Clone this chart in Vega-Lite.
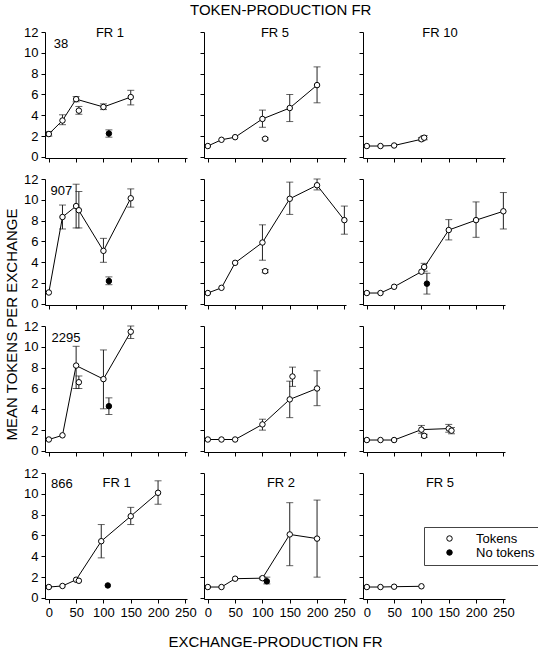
{
"$schema": "https://vega.github.io/schema/vega-lite/v6.json",
"background": "white",
"padding": {"left": 4, "top": 3, "right": 5, "bottom": 1},
"datasets": {"d": [
{"subj":"38","tfr":1,"x":0,"y":2.2,"lo":2.0,"hi":2.45,"cond":"Tokens","conn":1},
{"subj":"38","tfr":1,"x":25,"y":3.5,"lo":3.1,"hi":4.05,"cond":"Tokens","conn":1},
{"subj":"38","tfr":1,"x":50,"y":5.55,"lo":5.3,"hi":5.8,"cond":"Tokens","conn":1},
{"subj":"38","tfr":1,"x":55,"y":4.45,"lo":4.1,"hi":4.85,"cond":"Tokens","conn":0},
{"subj":"38","tfr":1,"x":100,"y":4.8,"lo":4.55,"hi":5.1,"cond":"Tokens","conn":1},
{"subj":"38","tfr":1,"x":110,"y":2.25,"lo":1.9,"hi":2.6,"cond":"No tokens","conn":0},
{"subj":"38","tfr":1,"x":150,"y":5.75,"lo":5.0,"hi":6.4,"cond":"Tokens","conn":1},
{"subj":"38","tfr":5,"x":0,"y":1.05,"lo":null,"hi":null,"cond":"Tokens","conn":1},
{"subj":"38","tfr":5,"x":25,"y":1.65,"lo":null,"hi":null,"cond":"Tokens","conn":1},
{"subj":"38","tfr":5,"x":50,"y":1.9,"lo":null,"hi":null,"cond":"Tokens","conn":1},
{"subj":"38","tfr":5,"x":100,"y":3.65,"lo":2.85,"hi":4.5,"cond":"Tokens","conn":1},
{"subj":"38","tfr":5,"x":105,"y":1.75,"lo":1.65,"hi":1.85,"cond":"Tokens","conn":0},
{"subj":"38","tfr":5,"x":150,"y":4.7,"lo":3.4,"hi":6.0,"cond":"Tokens","conn":1},
{"subj":"38","tfr":5,"x":200,"y":6.9,"lo":5.2,"hi":8.65,"cond":"Tokens","conn":1},
{"subj":"38","tfr":10,"x":0,"y":1.05,"lo":null,"hi":null,"cond":"Tokens","conn":1},
{"subj":"38","tfr":10,"x":25,"y":1.05,"lo":null,"hi":null,"cond":"Tokens","conn":1},
{"subj":"38","tfr":10,"x":50,"y":1.1,"lo":null,"hi":null,"cond":"Tokens","conn":1},
{"subj":"38","tfr":10,"x":100,"y":1.7,"lo":1.55,"hi":1.85,"cond":"Tokens","conn":1},
{"subj":"38","tfr":10,"x":105,"y":1.85,"lo":1.65,"hi":2.05,"cond":"Tokens","conn":0},
{"subj":"907","tfr":1,"x":0,"y":1.1,"lo":null,"hi":null,"cond":"Tokens","conn":1},
{"subj":"907","tfr":1,"x":25,"y":8.35,"lo":7.2,"hi":9.5,"cond":"Tokens","conn":1},
{"subj":"907","tfr":1,"x":50,"y":9.4,"lo":7.3,"hi":11.5,"cond":"Tokens","conn":1},
{"subj":"907","tfr":1,"x":55,"y":9.0,"lo":7.3,"hi":10.8,"cond":"Tokens","conn":0},
{"subj":"907","tfr":1,"x":100,"y":5.1,"lo":4.0,"hi":6.3,"cond":"Tokens","conn":1},
{"subj":"907","tfr":1,"x":110,"y":2.2,"lo":1.85,"hi":2.6,"cond":"No tokens","conn":0},
{"subj":"907","tfr":1,"x":150,"y":10.15,"lo":9.3,"hi":11.05,"cond":"Tokens","conn":1},
{"subj":"907","tfr":5,"x":0,"y":1.05,"lo":null,"hi":null,"cond":"Tokens","conn":1},
{"subj":"907","tfr":5,"x":25,"y":1.55,"lo":null,"hi":null,"cond":"Tokens","conn":1},
{"subj":"907","tfr":5,"x":50,"y":3.95,"lo":null,"hi":null,"cond":"Tokens","conn":1},
{"subj":"907","tfr":5,"x":100,"y":5.9,"lo":4.2,"hi":7.6,"cond":"Tokens","conn":1},
{"subj":"907","tfr":5,"x":105,"y":3.15,"lo":3.0,"hi":3.3,"cond":"Tokens","conn":0},
{"subj":"907","tfr":5,"x":150,"y":10.1,"lo":8.6,"hi":11.7,"cond":"Tokens","conn":1},
{"subj":"907","tfr":5,"x":200,"y":11.4,"lo":10.95,"hi":12.0,"cond":"Tokens","conn":1},
{"subj":"907","tfr":5,"x":250,"y":8.05,"lo":6.7,"hi":9.4,"cond":"Tokens","conn":1},
{"subj":"907","tfr":10,"x":0,"y":1.05,"lo":null,"hi":null,"cond":"Tokens","conn":1},
{"subj":"907","tfr":10,"x":25,"y":1.05,"lo":null,"hi":null,"cond":"Tokens","conn":1},
{"subj":"907","tfr":10,"x":50,"y":1.65,"lo":null,"hi":null,"cond":"Tokens","conn":1},
{"subj":"907","tfr":10,"x":100,"y":3.1,"lo":null,"hi":null,"cond":"Tokens","conn":1},
{"subj":"907","tfr":10,"x":105,"y":3.55,"lo":3.15,"hi":3.9,"cond":"Tokens","conn":0},
{"subj":"907","tfr":10,"x":110,"y":1.95,"lo":0.95,"hi":2.95,"cond":"No tokens","conn":0},
{"subj":"907","tfr":10,"x":150,"y":7.1,"lo":6.15,"hi":8.1,"cond":"Tokens","conn":1},
{"subj":"907","tfr":10,"x":200,"y":8.05,"lo":6.4,"hi":9.8,"cond":"Tokens","conn":1},
{"subj":"907","tfr":10,"x":250,"y":8.9,"lo":7.2,"hi":10.7,"cond":"Tokens","conn":1},
{"subj":"2295","tfr":1,"x":0,"y":1.1,"lo":null,"hi":null,"cond":"Tokens","conn":1},
{"subj":"2295","tfr":1,"x":25,"y":1.5,"lo":null,"hi":null,"cond":"Tokens","conn":1},
{"subj":"2295","tfr":1,"x":50,"y":8.2,"lo":6.0,"hi":10.05,"cond":"Tokens","conn":1},
{"subj":"2295","tfr":1,"x":55,"y":6.6,"lo":6.0,"hi":7.2,"cond":"Tokens","conn":0},
{"subj":"2295","tfr":1,"x":100,"y":6.9,"lo":4.05,"hi":9.7,"cond":"Tokens","conn":1},
{"subj":"2295","tfr":1,"x":110,"y":4.3,"lo":3.5,"hi":5.1,"cond":"No tokens","conn":0},
{"subj":"2295","tfr":1,"x":150,"y":11.45,"lo":10.8,"hi":12.0,"cond":"Tokens","conn":1},
{"subj":"2295","tfr":5,"x":0,"y":1.1,"lo":null,"hi":null,"cond":"Tokens","conn":1},
{"subj":"2295","tfr":5,"x":25,"y":1.1,"lo":null,"hi":null,"cond":"Tokens","conn":1},
{"subj":"2295","tfr":5,"x":50,"y":1.1,"lo":null,"hi":null,"cond":"Tokens","conn":1},
{"subj":"2295","tfr":5,"x":100,"y":2.55,"lo":2.0,"hi":3.05,"cond":"Tokens","conn":1},
{"subj":"2295","tfr":5,"x":150,"y":4.95,"lo":3.2,"hi":6.7,"cond":"Tokens","conn":1},
{"subj":"2295","tfr":5,"x":155,"y":7.15,"lo":6.2,"hi":8.05,"cond":"Tokens","conn":0},
{"subj":"2295","tfr":5,"x":200,"y":6.0,"lo":4.35,"hi":7.7,"cond":"Tokens","conn":1},
{"subj":"2295","tfr":10,"x":0,"y":1.05,"lo":null,"hi":null,"cond":"Tokens","conn":1},
{"subj":"2295","tfr":10,"x":25,"y":1.05,"lo":null,"hi":null,"cond":"Tokens","conn":1},
{"subj":"2295","tfr":10,"x":50,"y":1.05,"lo":null,"hi":null,"cond":"Tokens","conn":1},
{"subj":"2295","tfr":10,"x":100,"y":2.05,"lo":1.7,"hi":2.45,"cond":"Tokens","conn":1},
{"subj":"2295","tfr":10,"x":105,"y":1.45,"lo":1.3,"hi":1.6,"cond":"Tokens","conn":0},
{"subj":"2295","tfr":10,"x":150,"y":2.15,"lo":1.8,"hi":2.55,"cond":"Tokens","conn":1},
{"subj":"2295","tfr":10,"x":155,"y":1.95,"lo":1.65,"hi":2.25,"cond":"Tokens","conn":0},
{"subj":"866","tfr":1,"x":0,"y":1.05,"lo":null,"hi":null,"cond":"Tokens","conn":1},
{"subj":"866","tfr":1,"x":25,"y":1.15,"lo":null,"hi":null,"cond":"Tokens","conn":1},
{"subj":"866","tfr":1,"x":50,"y":1.75,"lo":null,"hi":null,"cond":"Tokens","conn":1},
{"subj":"866","tfr":1,"x":55,"y":1.65,"lo":null,"hi":null,"cond":"Tokens","conn":0},
{"subj":"866","tfr":1,"x":96,"y":5.45,"lo":3.85,"hi":7.05,"cond":"Tokens","conn":1},
{"subj":"866","tfr":1,"x":108,"y":1.2,"lo":null,"hi":null,"cond":"No tokens","conn":0},
{"subj":"866","tfr":1,"x":150,"y":7.85,"lo":7.05,"hi":8.7,"cond":"Tokens","conn":1},
{"subj":"866","tfr":1,"x":200,"y":10.1,"lo":9.0,"hi":11.25,"cond":"Tokens","conn":1},
{"subj":"866","tfr":2,"x":0,"y":1.05,"lo":null,"hi":null,"cond":"Tokens","conn":1},
{"subj":"866","tfr":2,"x":25,"y":1.05,"lo":null,"hi":null,"cond":"Tokens","conn":1},
{"subj":"866","tfr":2,"x":50,"y":1.85,"lo":null,"hi":null,"cond":"Tokens","conn":1},
{"subj":"866","tfr":2,"x":100,"y":1.9,"lo":1.75,"hi":2.0,"cond":"Tokens","conn":1},
{"subj":"866","tfr":2,"x":108,"y":1.6,"lo":1.35,"hi":2.0,"cond":"No tokens","conn":0},
{"subj":"866","tfr":2,"x":150,"y":6.1,"lo":3.1,"hi":9.15,"cond":"Tokens","conn":1},
{"subj":"866","tfr":2,"x":200,"y":5.7,"lo":2.0,"hi":9.4,"cond":"Tokens","conn":1},
{"subj":"866","tfr":5,"x":0,"y":1.05,"lo":null,"hi":null,"cond":"Tokens","conn":1},
{"subj":"866","tfr":5,"x":25,"y":1.05,"lo":null,"hi":null,"cond":"Tokens","conn":1},
{"subj":"866","tfr":5,"x":50,"y":1.08,"lo":null,"hi":null,"cond":"Tokens","conn":1},
{"subj":"866","tfr":5,"x":100,"y":1.12,"lo":null,"hi":null,"cond":"Tokens","conn":1}
]},
"data": {"name": "d"},
"title": {"text": "TOKEN-PRODUCTION FR", "fontSize": 15, "fontWeight": "normal", "color": "black", "anchor": "start", "frame": "group", "offset": 8, "dx": 145},
"bounds": "flush",
"columns": 3,
"spacing": {"row": 21, "column": 17},
"concat": [
{"width":142,"height":126,"layer":[
 {"transform":[{"filter":"datum.subj=='38' && datum.tfr==1"}],
  "encoding":{"x":{"field":"x","type":"quantitative","scale":{"domain":[-7,253],"nice":false},"axis":{"values":[0,50,100,150,200,250],"tickCount":20,"format":"d","labelOverlap":false,"labels":false,"title":null}}},
  "layer":[
   {"transform":[{"filter":"isValid(datum.lo)"}],"mark":{"type":"rule","color":"#222"},"encoding":{"y":{"field":"lo","type":"quantitative","scale":{"domain":[-0.1,12],"nice":false}},"y2":{"field":"hi"}}},
   {"transform":[{"filter":"isValid(datum.lo)"}],"mark":{"type":"tick","orient":"horizontal","size":7,"thickness":1,"color":"#222"},"encoding":{"y":{"field":"lo","type":"quantitative","scale":{"domain":[-0.1,12],"nice":false}}}},
   {"transform":[{"filter":"isValid(datum.hi)"}],"mark":{"type":"tick","orient":"horizontal","size":7,"thickness":1,"color":"#222"},"encoding":{"y":{"field":"hi","type":"quantitative","scale":{"domain":[-0.1,12],"nice":false}}}},
   {"transform":[{"filter":"datum.conn==1"}],"mark":{"type":"line","color":"black","strokeWidth":1},"encoding":{"y":{"field":"y","type":"quantitative","scale":{"domain":[-0.1,12],"nice":false}}}},
   {"mark":{"type":"point","shape":"circle","filled":true,"stroke":"black","strokeWidth":1,"size":30,"opacity":1},"encoding":{"y":{"field":"y","type":"quantitative","scale":{"domain":[-0.1,12],"nice":false},"axis":{"values":[0,2,4,6,8,10,12],"tickCount":20,"format":"d","labelOverlap":false,"labels":true,"title":null}},"fill":{"field":"cond","type":"nominal","scale":{"domain":["Tokens","No tokens"],"range":["white","black"]},"legend":{"title":null,"orient":"none","legendX":379,"legendY":495}}}}
  ]},
 {"data":{"values":[{}]},"mark":{"type":"text","text":"38","align":"left","baseline":"middle"},"encoding":{"x":{"datum":9,"type":"quantitative","scale":{"domain":[-7,253],"nice":false}},"y":{"datum":10.85,"type":"quantitative","scale":{"domain":[-0.1,12],"nice":false}}}},
 {"data":{"values":[{}]},"mark":{"type":"text","text":"FR 1","align":"center","baseline":"middle"},"encoding":{"x":{"datum":112,"type":"quantitative","scale":{"domain":[-7,253],"nice":false}},"y":{"datum":11.95,"type":"quantitative","scale":{"domain":[-0.1,12],"nice":false}}}}
]},
{"width":142,"height":126,"layer":[
 {"transform":[{"filter":"datum.subj=='38' && datum.tfr==5"}],
  "encoding":{"x":{"field":"x","type":"quantitative","scale":{"domain":[-7,253],"nice":false},"axis":{"values":[0,50,100,150,200,250],"tickCount":20,"format":"d","labelOverlap":false,"labels":false,"title":null}}},
  "layer":[
   {"transform":[{"filter":"isValid(datum.lo)"}],"mark":{"type":"rule","color":"#222"},"encoding":{"y":{"field":"lo","type":"quantitative","scale":{"domain":[-0.1,12],"nice":false}},"y2":{"field":"hi"}}},
   {"transform":[{"filter":"isValid(datum.lo)"}],"mark":{"type":"tick","orient":"horizontal","size":7,"thickness":1,"color":"#222"},"encoding":{"y":{"field":"lo","type":"quantitative","scale":{"domain":[-0.1,12],"nice":false}}}},
   {"transform":[{"filter":"isValid(datum.hi)"}],"mark":{"type":"tick","orient":"horizontal","size":7,"thickness":1,"color":"#222"},"encoding":{"y":{"field":"hi","type":"quantitative","scale":{"domain":[-0.1,12],"nice":false}}}},
   {"transform":[{"filter":"datum.conn==1"}],"mark":{"type":"line","color":"black","strokeWidth":1},"encoding":{"y":{"field":"y","type":"quantitative","scale":{"domain":[-0.1,12],"nice":false}}}},
   {"mark":{"type":"point","shape":"circle","filled":true,"stroke":"black","strokeWidth":1,"size":30,"opacity":1},"encoding":{"y":{"field":"y","type":"quantitative","scale":{"domain":[-0.1,12],"nice":false},"axis":{"values":[0,2,4,6,8,10,12],"tickCount":20,"format":"d","labelOverlap":false,"labels":false,"title":null}},"fill":{"field":"cond","type":"nominal","scale":{"domain":["Tokens","No tokens"],"range":["white","black"]},"legend":{"title":null,"orient":"none","legendX":379,"legendY":495}}}}
  ]},
 {"data":{"values":[{}]},"mark":{"type":"text","text":"FR 5","align":"center","baseline":"middle"},"encoding":{"x":{"datum":123,"type":"quantitative","scale":{"domain":[-7,253],"nice":false}},"y":{"datum":11.95,"type":"quantitative","scale":{"domain":[-0.1,12],"nice":false}}}}
]},
{"width":142,"height":126,"layer":[
 {"transform":[{"filter":"datum.subj=='38' && datum.tfr==10"}],
  "encoding":{"x":{"field":"x","type":"quantitative","scale":{"domain":[-7,253],"nice":false},"axis":{"values":[0,50,100,150,200,250],"tickCount":20,"format":"d","labelOverlap":false,"labels":false,"title":null}}},
  "layer":[
   {"transform":[{"filter":"isValid(datum.lo)"}],"mark":{"type":"rule","color":"#222"},"encoding":{"y":{"field":"lo","type":"quantitative","scale":{"domain":[-0.1,12],"nice":false}},"y2":{"field":"hi"}}},
   {"transform":[{"filter":"isValid(datum.lo)"}],"mark":{"type":"tick","orient":"horizontal","size":7,"thickness":1,"color":"#222"},"encoding":{"y":{"field":"lo","type":"quantitative","scale":{"domain":[-0.1,12],"nice":false}}}},
   {"transform":[{"filter":"isValid(datum.hi)"}],"mark":{"type":"tick","orient":"horizontal","size":7,"thickness":1,"color":"#222"},"encoding":{"y":{"field":"hi","type":"quantitative","scale":{"domain":[-0.1,12],"nice":false}}}},
   {"transform":[{"filter":"datum.conn==1"}],"mark":{"type":"line","color":"black","strokeWidth":1},"encoding":{"y":{"field":"y","type":"quantitative","scale":{"domain":[-0.1,12],"nice":false}}}},
   {"mark":{"type":"point","shape":"circle","filled":true,"stroke":"black","strokeWidth":1,"size":30,"opacity":1},"encoding":{"y":{"field":"y","type":"quantitative","scale":{"domain":[-0.1,12],"nice":false},"axis":{"values":[0,2,4,6,8,10,12],"tickCount":20,"format":"d","labelOverlap":false,"labels":false,"title":null}},"fill":{"field":"cond","type":"nominal","scale":{"domain":["Tokens","No tokens"],"range":["white","black"]},"legend":{"title":null,"orient":"none","legendX":379,"legendY":495}}}}
  ]},
 {"data":{"values":[{}]},"mark":{"type":"text","text":"FR 10","align":"center","baseline":"middle"},"encoding":{"x":{"datum":134,"type":"quantitative","scale":{"domain":[-7,253],"nice":false}},"y":{"datum":11.95,"type":"quantitative","scale":{"domain":[-0.1,12],"nice":false}}}}
]},
{"width":142,"height":126,"layer":[
 {"transform":[{"filter":"datum.subj=='907' && datum.tfr==1"}],
  "encoding":{"x":{"field":"x","type":"quantitative","scale":{"domain":[-7,253],"nice":false},"axis":{"values":[0,50,100,150,200,250],"tickCount":20,"format":"d","labelOverlap":false,"labels":false,"title":null}}},
  "layer":[
   {"transform":[{"filter":"isValid(datum.lo)"}],"mark":{"type":"rule","color":"#222"},"encoding":{"y":{"field":"lo","type":"quantitative","scale":{"domain":[-0.1,12],"nice":false}},"y2":{"field":"hi"}}},
   {"transform":[{"filter":"isValid(datum.lo)"}],"mark":{"type":"tick","orient":"horizontal","size":7,"thickness":1,"color":"#222"},"encoding":{"y":{"field":"lo","type":"quantitative","scale":{"domain":[-0.1,12],"nice":false}}}},
   {"transform":[{"filter":"isValid(datum.hi)"}],"mark":{"type":"tick","orient":"horizontal","size":7,"thickness":1,"color":"#222"},"encoding":{"y":{"field":"hi","type":"quantitative","scale":{"domain":[-0.1,12],"nice":false}}}},
   {"transform":[{"filter":"datum.conn==1"}],"mark":{"type":"line","color":"black","strokeWidth":1},"encoding":{"y":{"field":"y","type":"quantitative","scale":{"domain":[-0.1,12],"nice":false}}}},
   {"mark":{"type":"point","shape":"circle","filled":true,"stroke":"black","strokeWidth":1,"size":30,"opacity":1},"encoding":{"y":{"field":"y","type":"quantitative","scale":{"domain":[-0.1,12],"nice":false},"axis":{"values":[0,2,4,6,8,10,12],"tickCount":20,"format":"d","labelOverlap":false,"labels":true,"title":"MEAN TOKENS PER EXCHANGE","titleY":145,"titlePadding":4}},"fill":{"field":"cond","type":"nominal","scale":{"domain":["Tokens","No tokens"],"range":["white","black"]},"legend":{"title":null,"orient":"none","legendX":379,"legendY":495}}}}
  ]},
 {"data":{"values":[{}]},"mark":{"type":"text","text":"907","align":"left","baseline":"middle"},"encoding":{"x":{"datum":3,"type":"quantitative","scale":{"domain":[-7,253],"nice":false}},"y":{"datum":10.85,"type":"quantitative","scale":{"domain":[-0.1,12],"nice":false}}}}
]},
{"width":142,"height":126,"layer":[
 {"transform":[{"filter":"datum.subj=='907' && datum.tfr==5"}],
  "encoding":{"x":{"field":"x","type":"quantitative","scale":{"domain":[-7,253],"nice":false},"axis":{"values":[0,50,100,150,200,250],"tickCount":20,"format":"d","labelOverlap":false,"labels":false,"title":null}}},
  "layer":[
   {"transform":[{"filter":"isValid(datum.lo)"}],"mark":{"type":"rule","color":"#222"},"encoding":{"y":{"field":"lo","type":"quantitative","scale":{"domain":[-0.1,12],"nice":false}},"y2":{"field":"hi"}}},
   {"transform":[{"filter":"isValid(datum.lo)"}],"mark":{"type":"tick","orient":"horizontal","size":7,"thickness":1,"color":"#222"},"encoding":{"y":{"field":"lo","type":"quantitative","scale":{"domain":[-0.1,12],"nice":false}}}},
   {"transform":[{"filter":"isValid(datum.hi)"}],"mark":{"type":"tick","orient":"horizontal","size":7,"thickness":1,"color":"#222"},"encoding":{"y":{"field":"hi","type":"quantitative","scale":{"domain":[-0.1,12],"nice":false}}}},
   {"transform":[{"filter":"datum.conn==1"}],"mark":{"type":"line","color":"black","strokeWidth":1},"encoding":{"y":{"field":"y","type":"quantitative","scale":{"domain":[-0.1,12],"nice":false}}}},
   {"mark":{"type":"point","shape":"circle","filled":true,"stroke":"black","strokeWidth":1,"size":30,"opacity":1},"encoding":{"y":{"field":"y","type":"quantitative","scale":{"domain":[-0.1,12],"nice":false},"axis":{"values":[0,2,4,6,8,10,12],"tickCount":20,"format":"d","labelOverlap":false,"labels":false,"title":null}},"fill":{"field":"cond","type":"nominal","scale":{"domain":["Tokens","No tokens"],"range":["white","black"]},"legend":{"title":null,"orient":"none","legendX":379,"legendY":495}}}}
  ]}
]},
{"width":142,"height":126,"layer":[
 {"transform":[{"filter":"datum.subj=='907' && datum.tfr==10"}],
  "encoding":{"x":{"field":"x","type":"quantitative","scale":{"domain":[-7,253],"nice":false},"axis":{"values":[0,50,100,150,200,250],"tickCount":20,"format":"d","labelOverlap":false,"labels":false,"title":null}}},
  "layer":[
   {"transform":[{"filter":"isValid(datum.lo)"}],"mark":{"type":"rule","color":"#222"},"encoding":{"y":{"field":"lo","type":"quantitative","scale":{"domain":[-0.1,12],"nice":false}},"y2":{"field":"hi"}}},
   {"transform":[{"filter":"isValid(datum.lo)"}],"mark":{"type":"tick","orient":"horizontal","size":7,"thickness":1,"color":"#222"},"encoding":{"y":{"field":"lo","type":"quantitative","scale":{"domain":[-0.1,12],"nice":false}}}},
   {"transform":[{"filter":"isValid(datum.hi)"}],"mark":{"type":"tick","orient":"horizontal","size":7,"thickness":1,"color":"#222"},"encoding":{"y":{"field":"hi","type":"quantitative","scale":{"domain":[-0.1,12],"nice":false}}}},
   {"transform":[{"filter":"datum.conn==1"}],"mark":{"type":"line","color":"black","strokeWidth":1},"encoding":{"y":{"field":"y","type":"quantitative","scale":{"domain":[-0.1,12],"nice":false}}}},
   {"mark":{"type":"point","shape":"circle","filled":true,"stroke":"black","strokeWidth":1,"size":30,"opacity":1},"encoding":{"y":{"field":"y","type":"quantitative","scale":{"domain":[-0.1,12],"nice":false},"axis":{"values":[0,2,4,6,8,10,12],"tickCount":20,"format":"d","labelOverlap":false,"labels":false,"title":null}},"fill":{"field":"cond","type":"nominal","scale":{"domain":["Tokens","No tokens"],"range":["white","black"]},"legend":{"title":null,"orient":"none","legendX":379,"legendY":495}}}}
  ]}
]},
{"width":142,"height":126,"layer":[
 {"transform":[{"filter":"datum.subj=='2295' && datum.tfr==1"}],
  "encoding":{"x":{"field":"x","type":"quantitative","scale":{"domain":[-7,253],"nice":false},"axis":{"values":[0,50,100,150,200,250],"tickCount":20,"format":"d","labelOverlap":false,"labels":false,"title":null}}},
  "layer":[
   {"transform":[{"filter":"isValid(datum.lo)"}],"mark":{"type":"rule","color":"#222"},"encoding":{"y":{"field":"lo","type":"quantitative","scale":{"domain":[-0.1,12],"nice":false}},"y2":{"field":"hi"}}},
   {"transform":[{"filter":"isValid(datum.lo)"}],"mark":{"type":"tick","orient":"horizontal","size":7,"thickness":1,"color":"#222"},"encoding":{"y":{"field":"lo","type":"quantitative","scale":{"domain":[-0.1,12],"nice":false}}}},
   {"transform":[{"filter":"isValid(datum.hi)"}],"mark":{"type":"tick","orient":"horizontal","size":7,"thickness":1,"color":"#222"},"encoding":{"y":{"field":"hi","type":"quantitative","scale":{"domain":[-0.1,12],"nice":false}}}},
   {"transform":[{"filter":"datum.conn==1"}],"mark":{"type":"line","color":"black","strokeWidth":1},"encoding":{"y":{"field":"y","type":"quantitative","scale":{"domain":[-0.1,12],"nice":false}}}},
   {"mark":{"type":"point","shape":"circle","filled":true,"stroke":"black","strokeWidth":1,"size":30,"opacity":1},"encoding":{"y":{"field":"y","type":"quantitative","scale":{"domain":[-0.1,12],"nice":false},"axis":{"values":[0,2,4,6,8,10,12],"tickCount":20,"format":"d","labelOverlap":false,"labels":true,"title":null}},"fill":{"field":"cond","type":"nominal","scale":{"domain":["Tokens","No tokens"],"range":["white","black"]},"legend":{"title":null,"orient":"none","legendX":379,"legendY":495}}}}
  ]},
 {"data":{"values":[{}]},"mark":{"type":"text","text":"2295","align":"left","baseline":"middle"},"encoding":{"x":{"datum":5,"type":"quantitative","scale":{"domain":[-7,253],"nice":false}},"y":{"datum":10.85,"type":"quantitative","scale":{"domain":[-0.1,12],"nice":false}}}}
]},
{"width":142,"height":126,"layer":[
 {"transform":[{"filter":"datum.subj=='2295' && datum.tfr==5"}],
  "encoding":{"x":{"field":"x","type":"quantitative","scale":{"domain":[-7,253],"nice":false},"axis":{"values":[0,50,100,150,200,250],"tickCount":20,"format":"d","labelOverlap":false,"labels":false,"title":null}}},
  "layer":[
   {"transform":[{"filter":"isValid(datum.lo)"}],"mark":{"type":"rule","color":"#222"},"encoding":{"y":{"field":"lo","type":"quantitative","scale":{"domain":[-0.1,12],"nice":false}},"y2":{"field":"hi"}}},
   {"transform":[{"filter":"isValid(datum.lo)"}],"mark":{"type":"tick","orient":"horizontal","size":7,"thickness":1,"color":"#222"},"encoding":{"y":{"field":"lo","type":"quantitative","scale":{"domain":[-0.1,12],"nice":false}}}},
   {"transform":[{"filter":"isValid(datum.hi)"}],"mark":{"type":"tick","orient":"horizontal","size":7,"thickness":1,"color":"#222"},"encoding":{"y":{"field":"hi","type":"quantitative","scale":{"domain":[-0.1,12],"nice":false}}}},
   {"transform":[{"filter":"datum.conn==1"}],"mark":{"type":"line","color":"black","strokeWidth":1},"encoding":{"y":{"field":"y","type":"quantitative","scale":{"domain":[-0.1,12],"nice":false}}}},
   {"mark":{"type":"point","shape":"circle","filled":true,"stroke":"black","strokeWidth":1,"size":30,"opacity":1},"encoding":{"y":{"field":"y","type":"quantitative","scale":{"domain":[-0.1,12],"nice":false},"axis":{"values":[0,2,4,6,8,10,12],"tickCount":20,"format":"d","labelOverlap":false,"labels":false,"title":null}},"fill":{"field":"cond","type":"nominal","scale":{"domain":["Tokens","No tokens"],"range":["white","black"]},"legend":{"title":null,"orient":"none","legendX":379,"legendY":495}}}}
  ]}
]},
{"width":142,"height":126,"layer":[
 {"transform":[{"filter":"datum.subj=='2295' && datum.tfr==10"}],
  "encoding":{"x":{"field":"x","type":"quantitative","scale":{"domain":[-7,253],"nice":false},"axis":{"values":[0,50,100,150,200,250],"tickCount":20,"format":"d","labelOverlap":false,"labels":false,"title":null}}},
  "layer":[
   {"transform":[{"filter":"isValid(datum.lo)"}],"mark":{"type":"rule","color":"#222"},"encoding":{"y":{"field":"lo","type":"quantitative","scale":{"domain":[-0.1,12],"nice":false}},"y2":{"field":"hi"}}},
   {"transform":[{"filter":"isValid(datum.lo)"}],"mark":{"type":"tick","orient":"horizontal","size":7,"thickness":1,"color":"#222"},"encoding":{"y":{"field":"lo","type":"quantitative","scale":{"domain":[-0.1,12],"nice":false}}}},
   {"transform":[{"filter":"isValid(datum.hi)"}],"mark":{"type":"tick","orient":"horizontal","size":7,"thickness":1,"color":"#222"},"encoding":{"y":{"field":"hi","type":"quantitative","scale":{"domain":[-0.1,12],"nice":false}}}},
   {"transform":[{"filter":"datum.conn==1"}],"mark":{"type":"line","color":"black","strokeWidth":1},"encoding":{"y":{"field":"y","type":"quantitative","scale":{"domain":[-0.1,12],"nice":false}}}},
   {"mark":{"type":"point","shape":"circle","filled":true,"stroke":"black","strokeWidth":1,"size":30,"opacity":1},"encoding":{"y":{"field":"y","type":"quantitative","scale":{"domain":[-0.1,12],"nice":false},"axis":{"values":[0,2,4,6,8,10,12],"tickCount":20,"format":"d","labelOverlap":false,"labels":false,"title":null}},"fill":{"field":"cond","type":"nominal","scale":{"domain":["Tokens","No tokens"],"range":["white","black"]},"legend":{"title":null,"orient":"none","legendX":379,"legendY":495}}}}
  ]}
]},
{"width":142,"height":126,"layer":[
 {"transform":[{"filter":"datum.subj=='866' && datum.tfr==1"}],
  "encoding":{"x":{"field":"x","type":"quantitative","scale":{"domain":[-7,253],"nice":false},"axis":{"values":[0,50,100,150,200,250],"tickCount":20,"format":"d","labelOverlap":false,"labels":true,"title":null}}},
  "layer":[
   {"transform":[{"filter":"isValid(datum.lo)"}],"mark":{"type":"rule","color":"#222"},"encoding":{"y":{"field":"lo","type":"quantitative","scale":{"domain":[-0.1,12],"nice":false}},"y2":{"field":"hi"}}},
   {"transform":[{"filter":"isValid(datum.lo)"}],"mark":{"type":"tick","orient":"horizontal","size":7,"thickness":1,"color":"#222"},"encoding":{"y":{"field":"lo","type":"quantitative","scale":{"domain":[-0.1,12],"nice":false}}}},
   {"transform":[{"filter":"isValid(datum.hi)"}],"mark":{"type":"tick","orient":"horizontal","size":7,"thickness":1,"color":"#222"},"encoding":{"y":{"field":"hi","type":"quantitative","scale":{"domain":[-0.1,12],"nice":false}}}},
   {"transform":[{"filter":"datum.conn==1"}],"mark":{"type":"line","color":"black","strokeWidth":1},"encoding":{"y":{"field":"y","type":"quantitative","scale":{"domain":[-0.1,12],"nice":false}}}},
   {"mark":{"type":"point","shape":"circle","filled":true,"stroke":"black","strokeWidth":1,"size":30,"opacity":1},"encoding":{"y":{"field":"y","type":"quantitative","scale":{"domain":[-0.1,12],"nice":false},"axis":{"values":[0,2,4,6,8,10,12],"tickCount":20,"format":"d","labelOverlap":false,"labels":true,"title":null}},"fill":{"field":"cond","type":"nominal","scale":{"domain":["Tokens","No tokens"],"range":["white","black"]},"legend":{"title":null,"orient":"none","legendX":379,"legendY":495}}}}
  ]},
 {"data":{"values":[{}]},"mark":{"type":"text","text":"866","align":"left","baseline":"middle"},"encoding":{"x":{"datum":4,"type":"quantitative","scale":{"domain":[-7,253],"nice":false}},"y":{"datum":10.9,"type":"quantitative","scale":{"domain":[-0.1,12],"nice":false}}}},
 {"data":{"values":[{}]},"mark":{"type":"text","text":"FR 1","align":"center","baseline":"middle"},"encoding":{"x":{"datum":124,"type":"quantitative","scale":{"domain":[-7,253],"nice":false}},"y":{"datum":11.0,"type":"quantitative","scale":{"domain":[-0.1,12],"nice":false}}}}
]},
{"width":142,"height":126,"layer":[
 {"transform":[{"filter":"datum.subj=='866' && datum.tfr==2"}],
  "encoding":{"x":{"field":"x","type":"quantitative","scale":{"domain":[-7,253],"nice":false},"axis":{"values":[0,50,100,150,200,250],"tickCount":20,"format":"d","labelOverlap":false,"labels":true,"title":"EXCHANGE-PRODUCTION FR","titlePadding":15}}},
  "layer":[
   {"transform":[{"filter":"isValid(datum.lo)"}],"mark":{"type":"rule","color":"#222"},"encoding":{"y":{"field":"lo","type":"quantitative","scale":{"domain":[-0.1,12],"nice":false}},"y2":{"field":"hi"}}},
   {"transform":[{"filter":"isValid(datum.lo)"}],"mark":{"type":"tick","orient":"horizontal","size":7,"thickness":1,"color":"#222"},"encoding":{"y":{"field":"lo","type":"quantitative","scale":{"domain":[-0.1,12],"nice":false}}}},
   {"transform":[{"filter":"isValid(datum.hi)"}],"mark":{"type":"tick","orient":"horizontal","size":7,"thickness":1,"color":"#222"},"encoding":{"y":{"field":"hi","type":"quantitative","scale":{"domain":[-0.1,12],"nice":false}}}},
   {"transform":[{"filter":"datum.conn==1"}],"mark":{"type":"line","color":"black","strokeWidth":1},"encoding":{"y":{"field":"y","type":"quantitative","scale":{"domain":[-0.1,12],"nice":false}}}},
   {"mark":{"type":"point","shape":"circle","filled":true,"stroke":"black","strokeWidth":1,"size":30,"opacity":1},"encoding":{"y":{"field":"y","type":"quantitative","scale":{"domain":[-0.1,12],"nice":false},"axis":{"values":[0,2,4,6,8,10,12],"tickCount":20,"format":"d","labelOverlap":false,"labels":false,"title":null}},"fill":{"field":"cond","type":"nominal","scale":{"domain":["Tokens","No tokens"],"range":["white","black"]},"legend":{"title":null,"orient":"none","legendX":379,"legendY":495}}}}
  ]},
 {"data":{"values":[{}]},"mark":{"type":"text","text":"FR 2","align":"center","baseline":"middle"},"encoding":{"x":{"datum":134,"type":"quantitative","scale":{"domain":[-7,253],"nice":false}},"y":{"datum":11.0,"type":"quantitative","scale":{"domain":[-0.1,12],"nice":false}}}}
]},
{"width":142,"height":126,"layer":[
 {"transform":[{"filter":"datum.subj=='866' && datum.tfr==5"}],
  "encoding":{"x":{"field":"x","type":"quantitative","scale":{"domain":[-7,253],"nice":false},"axis":{"values":[0,50,100,150,200,250],"tickCount":20,"format":"d","labelOverlap":false,"labels":true,"title":null}}},
  "layer":[
   {"transform":[{"filter":"datum.conn==1"}],"mark":{"type":"line","color":"black","strokeWidth":1},"encoding":{"y":{"field":"y","type":"quantitative","scale":{"domain":[-0.1,12],"nice":false}}}},
   {"mark":{"type":"point","shape":"circle","filled":true,"stroke":"black","strokeWidth":1,"size":30,"opacity":1},"encoding":{"y":{"field":"y","type":"quantitative","scale":{"domain":[-0.1,12],"nice":false},"axis":{"values":[0,2,4,6,8,10,12],"tickCount":20,"format":"d","labelOverlap":false,"labels":false,"title":null}},"fill":{"field":"cond","type":"nominal","scale":{"domain":["Tokens","No tokens"],"range":["white","black"]},"legend":{"title":null,"orient":"none","legendX":379,"legendY":495}}}}
  ]},
 {"data":{"values":[{}]},"mark":{"type":"text","text":"FR 5","align":"center","baseline":"middle"},"encoding":{"x":{"datum":134,"type":"quantitative","scale":{"domain":[-7,253],"nice":false}},"y":{"datum":11.0,"type":"quantitative","scale":{"domain":[-0.1,12],"nice":false}}}}
]}
],
"config": {
 "font": "Liberation Sans",
 "view": {"stroke": null},
 "axis": {"domainColor": "black", "tickColor": "black", "grid": false, "labelFontSize": 13, "labelColor": "black", "tickSize": 4, "labelPadding": 3, "labelOverlap": false, "labelFlush": false, "titleFontSize": 15, "titleFontWeight": "normal", "titleColor": "black"},
 "text": {"fontSize": 13, "color": "black"},
 "legend": {"padding": 5, "symbolOffset": 14, "labelOffset": 20, "labelFontSize": 13, "labelColor": "black", "strokeColor": "#444", "fillColor": "white", "symbolType": "circle", "symbolSize": 30, "symbolStrokeColor": "black", "symbolStrokeWidth": 1, "rowPadding": 0}
}
}
